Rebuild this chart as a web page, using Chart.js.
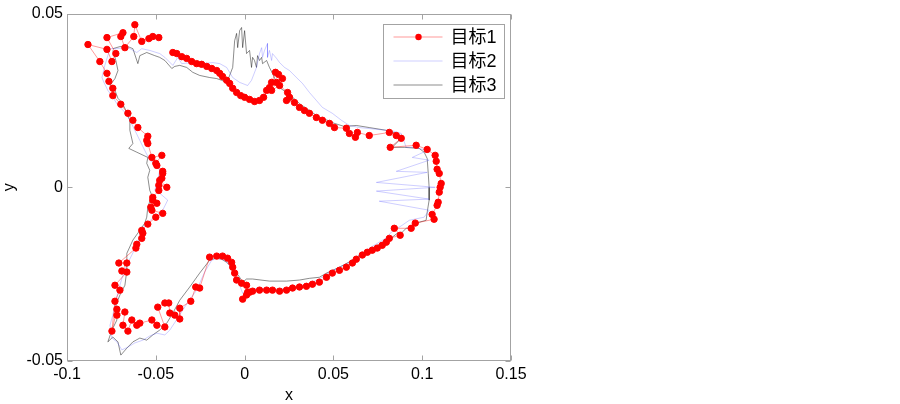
<!DOCTYPE html>
<html>
<head>
<meta charset="utf-8">
<script src="https://cdn.jsdelivr.net/npm/chart.js@4/dist/chart.umd.min.js"></script>
<style>
  html, body { margin: 0; padding: 0; background: #fff; }
  #wrap { width: 900px; height: 404px; }
</style>
</head>
<body>
<div id="wrap"><canvas id="traj" width="900" height="404"></canvas></div>
<script>
// 数据（单位 1e-3，绘图时换算）
const labels = ['目标1', '目标2', '目标3'];
const xTicks = [-0.1, -0.05, 0, 0.05, 0.1, 0.15];
const yTicks = [-0.05, 0, 0.05];

// 目标1 (red markers)
const t1x = [-40.4,-38.2,-35.4,-32.6,-29.8,-27.0,-24.2,-21.3,-18.5,-15.7,
  -14.0,-12.4,-10.1,-8.4,-6.7,-4.5,-2.2,0,2.8,5.6,
  8.4,10.7,12.4,14.0,15.2,17.4,19.1,21.3,18.0,15.2,
  19.7,24.2,25.3,23.6,28.1,30.9,33.7,36.5,40.4,43.8,
  47.8,50.6,57.3,59.0,62.4,63.5,70.2,81.5,85.4,88.2,
  82.0,96.6,102.8,107.3,107.9,108.4,109.6,110.7,110.1,109.6,
  109.0,108.4,105.6,106.7,96.1,93.8,84.3,87.6,81.5,79.8,
  77.5,74.7,71.9,69.1,66.3,62.9,60.7,57.3,53.4,49.4,
  46.1,42.1,38.2,34.8,30.9,27.0,23.6,19.7,15.7,12.4,
  8.4,4.5,2.8,1.1,-1.1,1.7,1.1,-1.7,-4.5,-5.6,
  -6.7,-7.3,-9.6,-12.4,-15.7,-19.7,-25.3,-27.5,-30.3,-36.5,
  -36.5,-39.3,-42.1,-42.7,-44.9,-48.9,-44.9,-49.4,-52.2,-59.0,
  -60.7,-63.5,-65.7,-68.5,-67.4,-71.9,-71.9,-74.7,-73.0,-70.2,
  -73.0,-66.3,-69.1,-66.3,-70.8,-61.2,-60.7,-57.9,-57.3,-57.9,
  -54.5,-50.0,-46.1,-52.2,-52.8,-49.4,-51.7,-51.7,-48.3,-48.3,
  -43.8,-47.8,-46.6,-46.1,-46.1,-49.4,-50.0,-46.6,-52.2,-54.5,
  -55.1,-54.5,-60.1,-62.9,-65.7,-69.7,-74.2,-74.2,-76.4,-77.5,
  -81.5,-88.2,-77.5,-74.7,-72.5,-77.5,-68.5,-69.7,-67.4,-62.4,
  -61.8,-57.9,-53.9,-51.7,-48.3];
const t1y = [38.8,38.5,37.6,37.1,36.2,35.6,35.4,34.8,34.2,33.6,
  32.8,31.9,30.8,29.9,28.5,27.3,26.4,25.9,25.3,24.7,
  25.0,25.9,27.9,28.7,30.2,33.1,32.5,31.3,30.2,27.9,
  29.3,27.3,25.9,25.0,24.4,23.0,22.1,21.3,20.1,19.3,
  18.4,17.2,17.0,15.5,14.4,15.8,14.9,15.8,14.9,14.1,
  11.5,12.1,10.9,9.2,7.5,5.2,4.0,1.1,0,-1.4,
  -4.3,-5.2,-7.8,-9.2,-10.3,-11.8,-11.8,-13.8,-14.7,-15.8,
  -16.7,-17.5,-18.1,-18.7,-19.5,-20.7,-21.8,-23.0,-23.9,-24.7,
  -25.9,-27.3,-27.9,-28.5,-28.7,-29.0,-29.6,-29.9,-29.6,-29.6,
  -29.6,-29.9,-30.2,-31.0,-32.2,-30.2,-28.2,-27.6,-26.7,-24.7,
  -23.0,-21.6,-20.4,-19.8,-19.8,-20.1,-29.0,-28.7,-32.8,-34.8,
  -37.9,-36.8,-36.2,-33.3,-33.3,-34.5,-40.2,-39.7,-38.2,-39.1,
  -39.7,-38.2,-41.4,-39.7,-35.9,-36.8,-35.1,-41.4,-32.8,-29.6,
  -28.2,-24.4,-24.1,-21.8,-21.8,-17.5,-16.4,-14.7,-13.2,-12.4,
  -10.6,-8.6,-7.5,-6.6,-5.7,-4.6,-3.7,-2.9,-0.9,0.6,
  0,2.0,2.6,4.0,4.6,6.3,6.9,9.2,8.6,12.6,
  13.5,14.7,17.2,19.3,21.3,23.9,26.4,28.5,30.5,32.8,
  36.2,41.1,39.7,36.2,38.5,43.1,44.5,43.4,40.2,43.4,
  46.8,42.0,42.8,43.4,43.1];

// 目标2 (light blue line)
const t2x = [-75.8,-71.9,-67.4,-64.6,-60.7,-57.9,-53.4,-47.8,-44.9,-40.4,
  -37.6,-35.4,-29.8,-23.6,-18.0,-14.0,-10.1,-6.7,-2.8,1.7,
  3.9,6.7,8.4,9.6,10.1,11.2,12.9,12.9,14.0,15.2,
  15.7,18.0,19.7,22.5,25.3,29.2,32.6,36.5,40.4,43.8,
  49.4,54.5,59.0,64.6,68.5,74.2,79.8,84.3,88.2,91.0,
  95.5,102.8,94.4,103.9,85.4,102.8,74.2,107.3,74.2,103.9,
  75.8,103.9,101.1,92.7,88.8,86.0,82.6,80.3,75.8,71.3,
  67.4,62.9,59.0,53.4,47.8,42.1,36.5,30.9,25.3,19.7,
  14.0,8.4,3.9,1.7,-1.1,-2.8,-4.5,-6.7,-8.4,-11.2,
  -15.2,-18.5,-22.5,-27.0,-32.0,-37.6,-42.1,-44.9,-49.4,-53.4,
  -57.3,-61.8,-65.7,-69.1,-71.9,-74.7,-75.8,-74.2,-73.0,-71.3,
  -69.1,-66.3,-63.5,-60.7,-59.0,-56.2,-51.7,-46.1,-43.3,-47.8,
  -50.6,-48.9,-47.8,-49.4,-53.4,-56.2,-59.0,-61.8,-64.6,-67.4,
  -71.3,-74.2,-77.0,-79.2,-80.3,-78.7,-77.0,-75.8];
const t2y = [39.9,39.9,40.2,39.9,38.8,39.9,39.4,38.5,37.4,35.1,
  37.4,35.6,35.9,35.6,35.9,35.6,34.5,31.6,30.2,29.3,
  30.8,34.5,38.5,40.2,37.4,39.4,41.4,37.4,39.4,36.5,
  38.5,37.1,35.9,34.5,33.6,31.6,29.9,27.3,25.0,23.0,
  21.3,19.3,17.8,17.2,17.0,16.7,16.4,16.1,15.5,11.5,
  11.5,10.6,8.6,7.8,4.6,4.3,1.4,0,-1.1,-3.4,
  -4.0,-6.6,-8.6,-9.5,-10.9,-11.8,-12.9,-14.4,-15.8,-17.2,
  -18.7,-20.1,-21.6,-23.0,-24.4,-26.4,-27.6,-28.5,-29.0,-29.3,
  -29.3,-29.0,-29.3,-29.6,-30.5,-28.2,-26.2,-23.9,-22.4,-21.0,
  -20.4,-21.0,-24.4,-29.6,-33.1,-37.6,-41.1,-42.5,-42.0,-42.8,
  -44.0,-44.8,-46.0,-46.8,-44.5,-43.4,-39.7,-36.8,-33.9,-30.2,
  -26.2,-22.4,-19.5,-16.7,-13.8,-10.9,-8.9,-6.6,-3.7,-1.7,
  -0.9,2.0,4.9,6.3,7.8,10.6,13.5,16.4,19.3,21.6,
  23.6,25.9,27.9,30.2,31.6,35.1,37.9,39.9];

// 目标3 (grey line)
const t3x = [-74.2,-70.2,-65.7,-62.9,-60.1,-59.0,-55.1,-50.6,-47.8,-44.9,
  -41.0,-39.3,-36.5,-32.6,-29.2,-25.3,-19.7,-15.7,-12.9,-10.1,
  -8.4,-6.7,-5.6,-4.5,-3.9,-2.8,-1.7,-1.1,0,1.1,
  2.8,3.9,4.5,5.6,6.7,7.3,8.4,9.6,10.1,12.4,
  14.0,15.7,18.0,19.7,23.6,27.0,30.9,36.5,42.1,46.6,
  50.6,56.2,62.9,70.2,79.8,85.4,88.8,83.1,89.9,98.3,
  101.1,102.8,103.4,103.9,103.9,102.8,102.2,96.6,94.4,91.0,
  88.8,86.0,83.1,79.8,75.8,71.3,66.3,60.7,53.4,46.1,
  42.1,36.5,30.9,23.6,14.0,4.5,1.1,-1.1,-2.8,-4.5,
  -7.3,-10.1,-12.9,-16.3,-19.7,-25.3,-30.9,-36.5,-40.4,-43.8,
  -47.8,-51.7,-55.1,-59.0,-62.9,-66.3,-69.7,-71.3,-74.2,-77.0,
  -74.7,-71.9,-72.5,-70.2,-67.4,-66.3,-66.3,-62.9,-59.0,-56.2,
  -55.1,-54.5,-52.2,-53.4,-54.5,-53.4,-55.1,-54.5,-60.7,-65.2,
  -62.9,-64.6,-64.6,-67.4,-69.1,-71.3,-73.0,-75.8,-73.0,-71.3,
  -72.5,-74.2];
const t3y = [39.9,40.5,40.5,39.9,35.6,37.9,38.8,37.9,37.4,36.5,
  34.2,34.8,35.1,34.5,33.1,32.2,31.6,31.3,30.8,30.2,
  32.2,34.5,42.2,44.3,40.2,45.1,46.0,40.2,45.1,38.5,
  39.4,34.5,37.4,36.5,34.5,37.9,36.5,37.4,35.6,36.5,
  34.5,32.8,30.2,28.7,27.3,25.9,24.1,22.1,20.1,19.3,
  18.4,17.5,17.8,17.2,16.4,15.5,14.4,11.5,11.5,11.2,
  10.1,8.3,4.0,0,-3.7,-7.2,-9.5,-10.3,-11.5,-11.8,
  -12.9,-13.2,-14.4,-15.2,-16.4,-18.1,-19.0,-21.0,-23.0,-24.7,
  -25.9,-26.2,-26.7,-27.0,-27.0,-26.4,-26.4,-27.3,-25.9,-24.7,
  -23.0,-21.6,-20.7,-20.4,-21.0,-24.7,-28.7,-32.5,-36.2,-39.1,
  -41.1,-42.5,-44.0,-43.4,-44.5,-46.3,-48.3,-44.5,-43.1,-44.5,
  -41.1,-38.2,-33.9,-31.0,-28.2,-23.9,-19.0,-15.2,-12.4,-10.3,
  -8.6,-5.7,-2.3,-0.9,2.9,4.9,6.9,8.6,10.1,11.2,
  12.6,16.4,19.3,22.7,24.4,25.6,27.9,29.3,31.3,33.6,
  36.5,39.4];

// 样式
const AXIS_COLOR = '#a3a3a3';
const TICK_LEN = 5;
const FONT = '"Liberation Sans", Arial, "Noto Sans CJK SC", sans-serif';

const toPoints = (xs, ys) => xs.map((v, i) => ({ x: v / 1000, y: ys[i] / 1000 }));
const fmt = v => String(+v.toFixed(2));

// 坐标框 + 向内刻度（MATLAB 风格）
const frameTicks = {
    id: 'frameTicks',
    afterDatasetsDraw(chart) {
        const { ctx, chartArea: a, scales: { x, y } } = chart;
        ctx.save();
        ctx.strokeStyle = AXIS_COLOR;
        ctx.lineWidth = 1;
        const L = Math.round(a.left) + 0.5, R = Math.round(a.right) - 0.5;
        const T = Math.round(a.top) + 0.5, B = Math.round(a.bottom) - 0.5;
        ctx.strokeRect(L, T, R - L, B - T);
        ctx.beginPath();
        x.ticks.forEach(t => {
            const px = Math.round(x.getPixelForValue(t.value)) + 0.5;
            ctx.moveTo(px, B); ctx.lineTo(px, B - TICK_LEN);
            ctx.moveTo(px, T); ctx.lineTo(px, T + TICK_LEN);
        });
        y.ticks.forEach(t => {
            const py = Math.round(y.getPixelForValue(t.value)) + 0.5;
            ctx.moveTo(L, py); ctx.lineTo(L + TICK_LEN, py);
            ctx.moveTo(R, py); ctx.lineTo(R - TICK_LEN, py);
        });
        ctx.stroke();
        ctx.restore();
    }
};

// 图例（右上角）
const boxLegend = {
    id: 'boxLegend',
    afterDraw(chart) {
        const { ctx, chartArea: a } = chart;
        const w = 121, h = 74;
        const bx = Math.round(a.right) - 7 - w + 0.5;
        const by = Math.round(a.top) + 10 + 0.5;
        ctx.save();
        ctx.fillStyle = '#fff';
        ctx.fillRect(bx, by, w, h);
        ctx.strokeStyle = AXIS_COLOR;
        ctx.lineWidth = 1;
        ctx.strokeRect(bx, by, w, h);
        ctx.font = '18px ' + FONT;
        ctx.textBaseline = 'middle';
        chart.data.datasets.forEach((ds, i) => {
            const cy = by + 12.5 + i * 24;
            ctx.strokeStyle = ds.borderColor;
            ctx.lineWidth = ds.borderWidth;
            ctx.beginPath();
            ctx.moveTo(bx + 10, cy);
            ctx.lineTo(bx + 59, cy);
            ctx.stroke();
            if (ds.pointRadius > 0) {
                ctx.fillStyle = ds.pointBackgroundColor;
                ctx.beginPath();
                ctx.arc(bx + 35, cy, ds.pointRadius, 0, Math.PI * 2);
                ctx.fill();
            }
            ctx.fillStyle = '#000';
            ctx.fillText(ds.label, bx + 67, cy + 1);
        });
        ctx.restore();
    }
};

new Chart(document.getElementById('traj'), {
    type: 'scatter',
    data: {
        datasets: [
            {
                label: labels[0],
                data: toPoints(t1x, t1y),
                showLine: true,
                borderColor: 'rgba(255,0,0,0.4)',
                borderWidth: 1,
                pointRadius: 3.2,
                pointBackgroundColor: '#ff0000',
                pointBorderColor: '#ff0000',
                pointBorderWidth: 1
            },
            {
                label: labels[1],
                data: toPoints(t2x, t2y),
                showLine: true,
                borderColor: 'rgba(80,80,255,0.28)',
                borderWidth: 1,
                pointRadius: 0
            },
            {
                label: labels[2],
                data: toPoints(t3x, t3y),
                showLine: true,
                borderColor: 'rgba(0,0,0,0.45)',
                borderWidth: 1,
                pointRadius: 0
            }
        ]
    },
    options: {
        responsive: false,
        animation: false,
        layout: { padding: { left: 0, top: 13, right: 389, bottom: 0 } },
        plugins: {
            legend: { display: false },
            tooltip: { enabled: false }
        },
        scales: {
            x: {
                type: 'linear',
                min: xTicks[0],
                max: xTicks[xTicks.length - 1],
                afterBuildTicks: s => { s.ticks = xTicks.map(v => ({ value: v })); },
                afterFit: s => { s.height = 43; },
                grid: { display: false, drawTicks: false },
                border: { display: false },
                ticks: {
                    color: '#000',
                    padding: 4,
                    maxRotation: 0,
                    font: { family: FONT, size: 16 },
                    callback: fmt
                },
                title: {
                    display: true,
                    text: 'x',
                    color: '#000',
                    padding: { top: 0, bottom: 0 },
                    font: { family: FONT, size: 16, lineHeight: 1 }
                }
            },
            y: {
                type: 'linear',
                min: yTicks[0],
                max: yTicks[yTicks.length - 1],
                afterBuildTicks: s => { s.ticks = yTicks.map(v => ({ value: v })); },
                afterFit: s => { s.width = 67; },
                grid: { display: false, drawTicks: false },
                border: { display: false },
                ticks: {
                    color: '#000',
                    padding: 4,
                    font: { family: FONT, size: 16 },
                    callback: fmt
                },
                title: {
                    display: true,
                    text: 'y',
                    color: '#000',
                    padding: { top: 0, bottom: 0 },
                    font: { family: FONT, size: 16 }
                }
            }
        }
    },
    plugins: [frameTicks, boxLegend]
});
</script>
</body>
</html>
